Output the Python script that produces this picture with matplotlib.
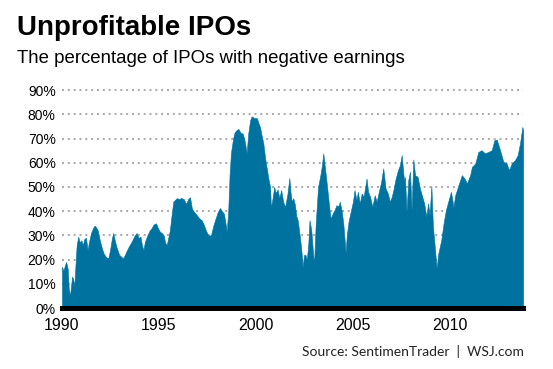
import matplotlib.pyplot as plt

# Share of IPOs with negative earnings
years = [
    1990.00, 1990.08, 1990.15, 1990.22, 1990.30, 1990.35, 1990.41, 1990.47, 1990.52, 1990.58,
    1990.64, 1990.70, 1990.76, 1990.84, 1990.92, 1991.00, 1991.08, 1991.15, 1991.24, 1991.32,
    1991.40, 1991.50, 1991.60, 1991.68, 1991.75, 1991.85, 1991.95, 1992.05, 1992.15, 1992.28,
    1992.39, 1992.48, 1992.58, 1992.65, 1992.72, 1992.82, 1992.95, 1993.08, 1993.16, 1993.30,
    1993.45, 1993.60, 1993.75, 1993.85, 1993.95, 1994.05, 1994.12, 1994.20, 1994.28, 1994.40,
    1994.52, 1994.62, 1994.72, 1994.85, 1994.95, 1995.05, 1995.15, 1995.25, 1995.32, 1995.40,
    1995.48, 1995.56, 1995.66, 1995.74, 1995.82, 1995.92, 1996.05, 1996.15, 1996.28, 1996.40,
    1996.50, 1996.60, 1996.70, 1996.82, 1996.95, 1997.08, 1997.20, 1997.32, 1997.42, 1997.54,
    1997.68, 1997.80, 1997.92, 1998.03, 1998.14, 1998.25, 1998.35, 1998.45, 1998.49, 1998.57,
    1998.64, 1998.71, 1998.82, 1998.90, 1999.00, 1999.09, 1999.20, 1999.32, 1999.42, 1999.52,
    1999.60, 1999.70, 1999.78, 1999.90, 2000.05, 2000.15, 2000.21, 2000.30, 2000.38, 2000.47,
    2000.55, 2000.65, 2000.73, 2000.77, 2000.85, 2000.94, 2001.02, 2001.12, 2001.20, 2001.30,
    2001.40, 2001.50, 2001.62, 2001.72, 2001.78, 2001.84, 2001.92, 2002.00, 2002.08, 2002.15,
    2002.22, 2002.30, 2002.36, 2002.40, 2002.48, 2002.55, 2002.62, 2002.70, 2002.76, 2002.85,
    2002.92, 2002.99, 2003.08, 2003.20, 2003.32, 2003.40, 2003.47, 2003.55, 2003.64, 2003.72,
    2003.80, 2003.85, 2003.95, 2004.05, 2004.15, 2004.25, 2004.32, 2004.42, 2004.50, 2004.58,
    2004.62, 2004.68, 2004.77, 2004.90, 2005.00, 2005.08, 2005.18, 2005.25, 2005.35, 2005.45,
    2005.55, 2005.70, 2005.78, 2005.88, 2006.00, 2006.12, 2006.22, 2006.35, 2006.45, 2006.56,
    2006.68, 2006.80, 2006.90, 2007.00, 2007.08, 2007.20, 2007.32, 2007.42, 2007.51, 2007.58,
    2007.64, 2007.68, 2007.76, 2007.85, 2007.94, 2008.02, 2008.11, 2008.20, 2008.33, 2008.45,
    2008.57, 2008.67, 2008.78, 2008.87, 2008.95, 2009.04, 2009.12, 2009.20, 2009.31, 2009.40,
    2009.55, 2009.67, 2009.79, 2009.93, 2010.05, 2010.18, 2010.27, 2010.44, 2010.61, 2010.75,
    2010.87, 2011.04, 2011.13, 2011.30, 2011.46, 2011.63, 2011.80, 2011.98, 2012.15, 2012.29,
    2012.41, 2012.58, 2012.75, 2012.92, 2013.04, 2013.18, 2013.35, 2013.49, 2013.61, 2013.73,
    2013.77,
]
pct = [
    17, 15.5, 17.5, 19, 16, 8, 5, 9, 13, 12,
    9, 18, 26, 29.5, 27, 28, 26, 28.5, 29, 24,
    27.5, 31, 33, 34, 33.5, 32, 28, 25, 22.5, 21,
    20.5, 24, 29, 31, 28, 25, 22, 21, 20.5, 23,
    25.5, 27.5, 30, 31, 29, 29.5, 26, 24, 27.5, 30,
    32, 33, 34.5, 35, 33, 31.5, 31, 30, 27, 26,
    29, 32, 39, 44, 44.6, 45.4, 45, 45.5, 45, 43,
    45, 45.8, 41, 39.6, 38.4, 37, 36.3, 34.3, 32, 30,
    30, 34, 37, 39.6, 41.3, 40, 39, 34, 31.4, 40,
    55, 64, 70, 72.6, 73.5, 74, 72.5, 72, 69, 64,
    72, 77.6, 79.2, 78.5, 78.4, 76, 74.7, 71, 68, 62,
    58, 53, 50, 41.3, 45, 50, 47.5, 49, 45.4, 48.7,
    44, 41.7, 47, 53.7, 48, 44, 45.4, 43, 38, 36.3,
    32.2, 26.8, 22, 17, 21.9, 22, 19.8, 26.8, 36.3, 32.2,
    25, 17.7, 35, 50, 54.9, 59, 63.9, 58.3, 52, 46,
    40, 37, 39, 40.5, 42.5, 42, 43.9, 40, 35, 27,
    22.7, 30, 35.6, 40.5, 44, 48.7, 44.6, 48, 43.2, 47.3,
    46, 53.5, 48, 46, 41.8, 46.6, 43.9, 48.7, 52, 57.7,
    49.4, 47.3, 43.9, 46, 48.7, 53.5, 57, 59, 63.2, 57,
    52, 54.2, 39.8, 52.8, 56.3, 40.5, 61.4, 54.9, 54.2, 49.4,
    46, 43.2, 37.7, 43.2, 38.4, 50.4, 33.6, 26.7, 16.4, 22.6,
    28.1, 35, 40.5, 44.6, 48, 41.8, 46.6, 50.8, 54.9, 53.5,
    51.5, 54.9, 58.3, 59.7, 64.5, 65.2, 63.9, 64.5, 65.2, 69.4,
    69.6, 65.2, 60.4, 59.7, 57, 59.7, 61.1, 63.2, 68.1, 74.8,
    73.5,
]

y_ticks = list(range(0, 91, 10))
x_ticks = [1990, 1995, 2000, 2005, 2010]

plt.rcParams['font.family'] = ['Liberation Sans', 'DejaVu Sans']

fig = plt.figure(figsize=(5.53, 3.69), dpi=100)
ax = fig.add_axes([0.112, 0.1653, 0.834, 0.5936])

ax.fill_between(years, pct, 0, color='#00729f', linewidth=0.4, edgecolor='#00729f', zorder=2)
ax.axhline(0, color='black', linewidth=3.6, zorder=3, clip_on=False)

ax.set_xlim(1990, 2013.77)
ax.set_ylim(0, 90.5)
ax.set_yticks(y_ticks)
ax.set_yticklabels([f'{t}%' for t in y_ticks])
ax.set_xticks(x_ticks)
ax.tick_params(axis='y', length=0, pad=4.5, labelsize=10, colors='black')
ax.tick_params(axis='x', length=0, pad=7, labelsize=11.5, colors='black')
ax.grid(axis='y', color='#a8a8a8', linestyle=(0, (1, 2)), linewidth=1.4, zorder=1)
ax.set_axisbelow(True)
for s in ax.spines.values():
    s.set_visible(False)

fig.text(0.031, 0.905, 'Unprofitable IPOs', fontsize=20, fontweight='bold', ha='left', va='baseline')
fig.text(0.031, 0.828, 'The percentage of IPOs with negative earnings', fontsize=13.4, ha='left', va='baseline')
fig.text(0.948, 0.035, 'Source: SentimenTrader  |  WSJ.com', fontsize=10, ha='right', va='baseline',
         family=['Lato', 'DejaVu Sans'], color='#222222')

fig.savefig('out.png', dpi=100)
